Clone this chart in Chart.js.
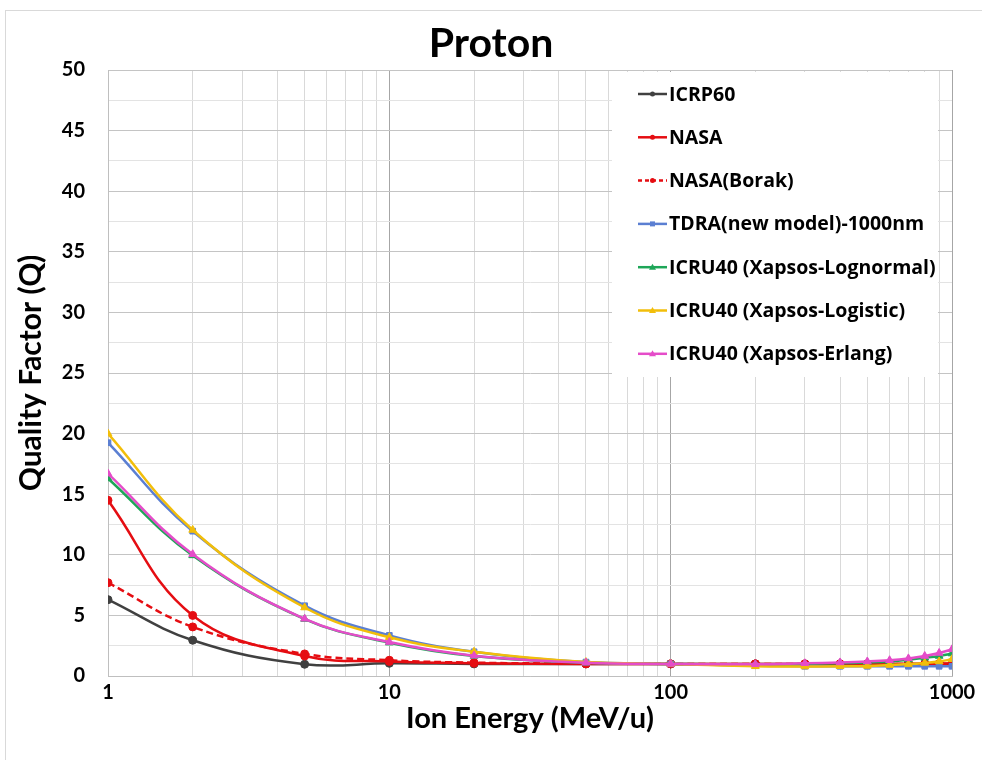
<!DOCTYPE html>
<html>
<head>
<meta charset="utf-8">
<script src="https://cdn.jsdelivr.net/npm/chart.js@4.4.1/dist/chart.umd.min.js"></script>
<style>
  html, body { margin: 0; padding: 0; background: #fff; }
  #wrap { position: relative; width: 982px; height: 760px; overflow: hidden; }
  #frame { position: absolute; left: 5px; top: 10px; width: 990px; height: 760px; border: 1px solid #d9d9d9; }
  #c { position: absolute; left: 0; top: 0; }
</style>
</head>
<body>
<div id="wrap">
  <div id="frame"></div>
  <canvas id="c" width="982" height="760"></canvas>
</div>
<script>
"use strict";

// Proton energies (MeV/u)
var energy = [1, 2, 5, 10, 20, 50, 100, 200, 300, 400, 500, 600, 700, 800, 900, 1000];

// Quality factor per model
var qICRP60    = [6.3, 2.95, 0.97, 1.05, 1.0, 1.0, 1.0, 1.0, 1.0, 1.0, 1.0, 1.0, 1.0, 1.0, 1.0, 1.0];
var qNASA      = [14.5, 5.0, 1.65, 1.2, 1.05, 1.0, 1.0, 1.0, 1.0, 1.0, 1.0, 1.0, 1.0, 1.02, 1.03, 1.05];
var qBorak     = [7.7, 4.05, 1.82, 1.3, 1.1, 1.02, 1.0, 1.0, 1.0, 1.0, 1.0, 1.0, 1.0, 1.0, 1.0, 1.0];
var qTDRA      = [19.25, 11.95, 5.8, 3.35, 2.0, 1.15, 1.0, 0.85, 0.8, 0.8, 0.8, 0.8, 0.8, 0.8, 0.8, 0.8];
var qLognormal = [16.3, 9.95, 4.7, 2.75, 1.65, 1.1, 1.0, 0.95, 1.0, 1.05, 1.12, 1.2, 1.35, 1.5, 1.65, 1.85];
var qLogistic  = [20.0, 12.05, 5.65, 3.2, 2.0, 1.15, 1.0, 0.8, 0.78, 0.8, 0.83, 0.9, 0.98, 1.08, 1.2, 1.38];
var qErlang    = [16.7, 10.05, 4.72, 2.8, 1.68, 1.1, 1.0, 0.97, 1.05, 1.12, 1.2, 1.3, 1.45, 1.65, 1.9, 2.2];

var seriesNames = [
  "ICRP60", "NASA", "NASA(Borak)", "TDRA(new model)-1000nm",
  "ICRU40 (Xapsos-Lognormal)", "ICRU40 (Xapsos-Logistic)", "ICRU40 (Xapsos-Erlang)"
];
var seriesData = [qICRP60, qNASA, qBorak, qTDRA, qLognormal, qLogistic, qErlang];
var seriesColors = ["#404040", "#e50d12", "#e50d12", "#5b7fd2", "#1ea658", "#f2be0a", "#e54cc9"];
var seriesMarkers = ["circle", "circle", "circle", "rect", "triangle", "triangle", "triangle"];
var seriesDash = [[], [], [7, 4], [], [], [], []];

// log grid: every 1..9 x 10^n, labels only on decades
var xGridValues = [1, 2, 3, 4, 5, 6, 7, 8, 9, 10, 20, 30, 40, 50, 60, 70, 80, 90,
                   100, 200, 300, 400, 500, 600, 700, 800, 900, 1000];
var xTickLabels = [1, 10, 100, 1000];

var chartTitle = "Proton";

var FONT = "Lato, 'Open Sans', sans-serif";
var LEGEND_FONT = "'Open Sans', Lato, sans-serif";

var datasets = seriesData.map(function(d, i) {
  return {
    label: seriesNames[i],
    data: energy.map(function(e, k) { return { x: e, y: d[k] }; }),
    borderColor: seriesColors[i],
    backgroundColor: seriesColors[i],
    borderWidth: 2.5,
    borderDash: seriesDash[i],
    pointStyle: seriesMarkers[i],
    pointRadius: seriesMarkers[i] === "triangle" ? 4.5 : 4,
    pointBorderWidth: 1,
    tension: 0.4,
    fill: false,
    order: seriesData.length - i
  };
});

// Title centred on the whole canvas, legend box inside the plot (upper right)
var decorations = {
  id: "decorations",
  afterDatasetsDraw: function(chart) {
    var ctx = chart.ctx;
    ctx.save();
    ctx.fillStyle = "#000";
    ctx.font = "bold 41px " + FONT;
    ctx.textAlign = "center";
    ctx.textBaseline = "middle";
    ctx.fillText(chartTitle, 491, 44);

    ctx.textAlign = "left";
    ctx.fillStyle = "#fff";
    ctx.fillRect(612, 72, 326, 305);
    var y0 = 94, dy = 43.3;
    ctx.font = "bold 19.5px " + LEGEND_FONT;
    seriesNames.forEach(function(name, i) {
      var y = y0 + i * dy;
      ctx.strokeStyle = seriesColors[i];
      ctx.lineWidth = 2.5;
      ctx.setLineDash(seriesDash[i].length ? [4, 3] : []);
      ctx.beginPath();
      ctx.moveTo(638, y);
      ctx.lineTo(667, y);
      ctx.stroke();
      ctx.setLineDash([]);
      ctx.fillStyle = seriesColors[i];
      ctx.beginPath();
      if (seriesMarkers[i] === "circle") {
        ctx.arc(652.5, y, 2.5, 0, Math.PI * 2);
      } else if (seriesMarkers[i] === "rect") {
        ctx.rect(650, y - 2.5, 5, 5);
      } else {
        ctx.moveTo(652.5, y - 3.5);
        ctx.lineTo(656, y + 2.5);
        ctx.lineTo(649, y + 2.5);
        ctx.closePath();
      }
      ctx.fill();
      ctx.fillStyle = "#000";
      ctx.fillText(name, 669, y + 1);
    });
    ctx.restore();
  }
};

new Chart(document.getElementById("c").getContext("2d"), {
  type: "line",
  data: { datasets: datasets },
  plugins: [decorations],
  options: {
    responsive: false,
    animation: false,
    layout: { padding: { top: 70, right: 30, bottom: 0, left: 0 } },
    plugins: {
      legend: { display: false },
      tooltip: { enabled: false },
      title: { display: false }
    },
    scales: {
      x: {
        type: "logarithmic",
        min: 1,
        max: 1000,
        afterBuildTicks: function(scale) {
          scale.ticks = xGridValues.map(function(v) { return { value: v }; });
        },
        afterFit: function(scale) { scale.height = 84; },
        ticks: {
          autoSkip: false,
          maxRotation: 0,
          padding: 5,
          color: "#000",
          font: { family: FONT, size: 20, weight: "bold" },
          callback: function(v) { return xTickLabels.indexOf(v) >= 0 ? String(v) : ""; }
        },
        grid: {
          drawTicks: false,
          color: function(ctx) {
            var v = ctx.tick ? ctx.tick.value : 0;
            return xTickLabels.indexOf(v) >= 0 ? "#a6a6a6" : "#d9d9d9";
          },
          lineWidth: 1
        },
        border: { color: "#bfbfbf" },
        title: {
          display: true,
          text: "Ion Energy (MeV/u)",
          color: "#000",
          font: { family: FONT, size: 29, weight: "bold" },
          padding: { top: 0, bottom: 24 }
        }
      },
      y: {
        min: 0,
        max: 50,
        afterFit: function(scale) { scale.width = 108; },
        ticks: {
          stepSize: 2.5,
          autoSkip: false,
          padding: 23,
          color: "#000",
          font: { family: FONT, size: 20, weight: "bold" },
          callback: function(v) { return v % 5 === 0 ? String(v) : ""; }
        },
        grid: {
          drawTicks: false,
          color: function(ctx) {
            var v = ctx.tick ? ctx.tick.value : 0;
            return v % 5 === 0 ? "#c4c4c4" : "#e3e3e3";
          },
          lineWidth: 1
        },
        border: { color: "#bfbfbf" },
        title: {
          display: true,
          text: "Quality Factor (Q)",
          color: "#000",
          font: { family: FONT, size: 30, weight: "bold" },
          padding: { top: 13, bottom: 0 }
        }
      }
    }
  }
});
</script>
</body>
</html>
